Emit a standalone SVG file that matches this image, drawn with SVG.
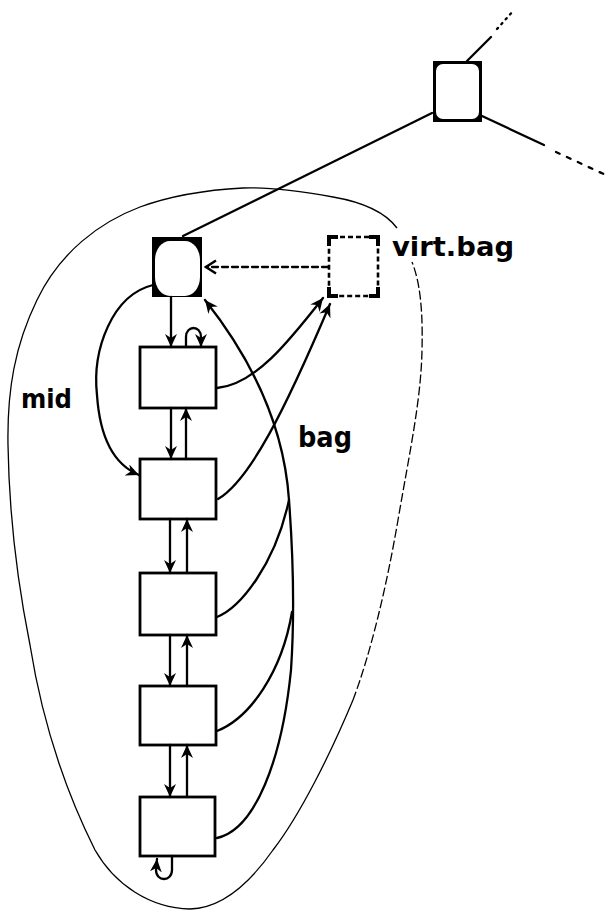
<svg xmlns="http://www.w3.org/2000/svg" width="612" height="913" viewBox="0 0 612 913">
<defs>
<marker id="ah" markerUnits="userSpaceOnUse" markerWidth="14" markerHeight="12" refX="13" refY="6" orient="auto"><path d="M0,0 L13,6 L0,12 L4,6 Z" fill="#000"/></marker>
<marker id="ao" markerUnits="userSpaceOnUse" markerWidth="14" markerHeight="16" refX="12" refY="8" orient="auto"><path d="M2,1.5 L12,8 L2,14.5" fill="none" stroke="#000" stroke-width="2.5"/></marker>
</defs>
<style>
.box{fill:#fff;stroke:#000;stroke-width:2.8}
.conn{fill:none;stroke:#000;stroke-width:2.3;stroke-linecap:round}
.arr{marker-end:url(#ah)}
.lbl{font-family:"DejaVu Sans",sans-serif;font-weight:bold;fill:#000}
.outline{fill:none;stroke:#000;stroke-width:1.3}
</style>
<rect width="612" height="913" fill="#fff"/>

<g id="outline">
<path class="outline" d="M397,228 C385,212 362,202 333,197 C300,191 270,187 243,188 C205,190 170,196 140,207 C100,222 60,252 37,300 C15,345 7,390 8,445 C9,510 17,580 30,645 C42,720 65,790 95,850 C115,885 150,908 190,909 C225,908 252,880 273,850 C300,815 330,755 353,700"/>
<path class="outline" stroke-dasharray="9 3" d="M353,700 C370,655 386,590 398,520 C410,450 421,400 422,350 C423,310 420,282 412,262"/>
</g>

<g id="tree-edges">
<line class="conn" x1="432" y1="113" x2="183" y2="236"/>
<line class="conn" x1="467" y1="61" x2="491" y2="37"/>
<line class="conn" stroke-dasharray="1.5 5" x1="497" y1="29" x2="514" y2="10"/>
<line class="conn" x1="482" y1="116" x2="544" y2="145"/>
<line class="conn" stroke-dasharray="4 8" x1="556" y1="152" x2="608" y2="176"/>
</g>

<g id="node-top">
<rect x="433" y="61" width="49" height="61" fill="#000"/>
<rect x="436" y="64" width="43" height="55" rx="7" fill="#fff"/>
</g>

<g id="node-head">
<rect x="152" y="237" width="50" height="60" fill="#000"/>
<rect x="155" y="241" width="45" height="55" rx="15" ry="19" fill="#fff"/>
</g>

<g id="node-virt">
<rect x="329" y="237" width="49" height="59" rx="3" fill="#fff" stroke="#000" stroke-width="2.6" stroke-dasharray="5 3"/>
<path d="M329,246 V237 H338 M369,237 H378 V246 M378,287 V296 H369 M338,296 H329 V287" fill="none" stroke="#000" stroke-width="4"/>
</g>

<g id="node-1"><rect class="box" x="140" y="347" width="76" height="61"/></g>
<g id="node-2"><rect class="box" x="140" y="459" width="76" height="60"/></g>
<g id="node-3"><rect class="box" x="140" y="573" width="76" height="62"/></g>
<g id="node-4"><rect class="box" x="140" y="686" width="76" height="59"/></g>
<g id="node-5"><rect class="box" x="140" y="797" width="75" height="59"/></g>

<g id="connectors">
<line class="conn" x1="328" y1="267" x2="206" y2="267" stroke-width="2.6" stroke-dasharray="6 4" marker-end="url(#ao)"/>
<line class="conn arr" x1="171" y1="297" x2="171" y2="347"/>
<path class="conn arr" d="M186,347 V337 C186,325 201,325 201,337 V347"/>
<line class="conn arr" x1="171" y1="408" x2="171" y2="459"/>
<line class="conn arr" x1="186" y1="459" x2="186" y2="408"/>
<line class="conn arr" x1="170" y1="519" x2="170" y2="573"/>
<line class="conn arr" x1="187" y1="573" x2="187" y2="519"/>
<line class="conn arr" x1="170" y1="635" x2="170" y2="686"/>
<line class="conn arr" x1="187" y1="686" x2="187" y2="635"/>
<line class="conn arr" x1="170" y1="745" x2="170" y2="797"/>
<line class="conn arr" x1="187" y1="797" x2="187" y2="745"/>
<path class="conn arr" d="M172,856 V870 C172,882 156,882 156,870 L157,859"/>
<path class="conn arr" stroke-width="3" d="M153,285 C112,295 92,350 97,395 C100,440 115,465 139,475"/>
<path class="conn arr" d="M217,388 C255,385 290,340 323,298"/>
<path class="conn arr" d="M218,499 C250,480 285,410 330,304"/>
<path class="conn" d="M217,617 C240,608 275,565 289,500"/>
<path class="conn" d="M217,731 C250,718 282,672 292,612"/>
<path class="conn" stroke-width="2.6" d="M217,838 C255,830 282,760 291,670 C295,610 292,540 289,500"/>
<path class="conn arr" stroke-width="2.6" d="M289,500 C285,440 262,372 205,300"/>
</g>

<g id="labels">
<text class="lbl" x="392" y="256" font-size="27" textLength="122" lengthAdjust="spacingAndGlyphs">virt.bag</text>
<text class="lbl" x="21" y="408" font-size="27" textLength="51" lengthAdjust="spacingAndGlyphs">mid</text>
<text class="lbl" x="298" y="447" font-size="28" textLength="54" lengthAdjust="spacingAndGlyphs">bag</text>
</g>
</svg>
